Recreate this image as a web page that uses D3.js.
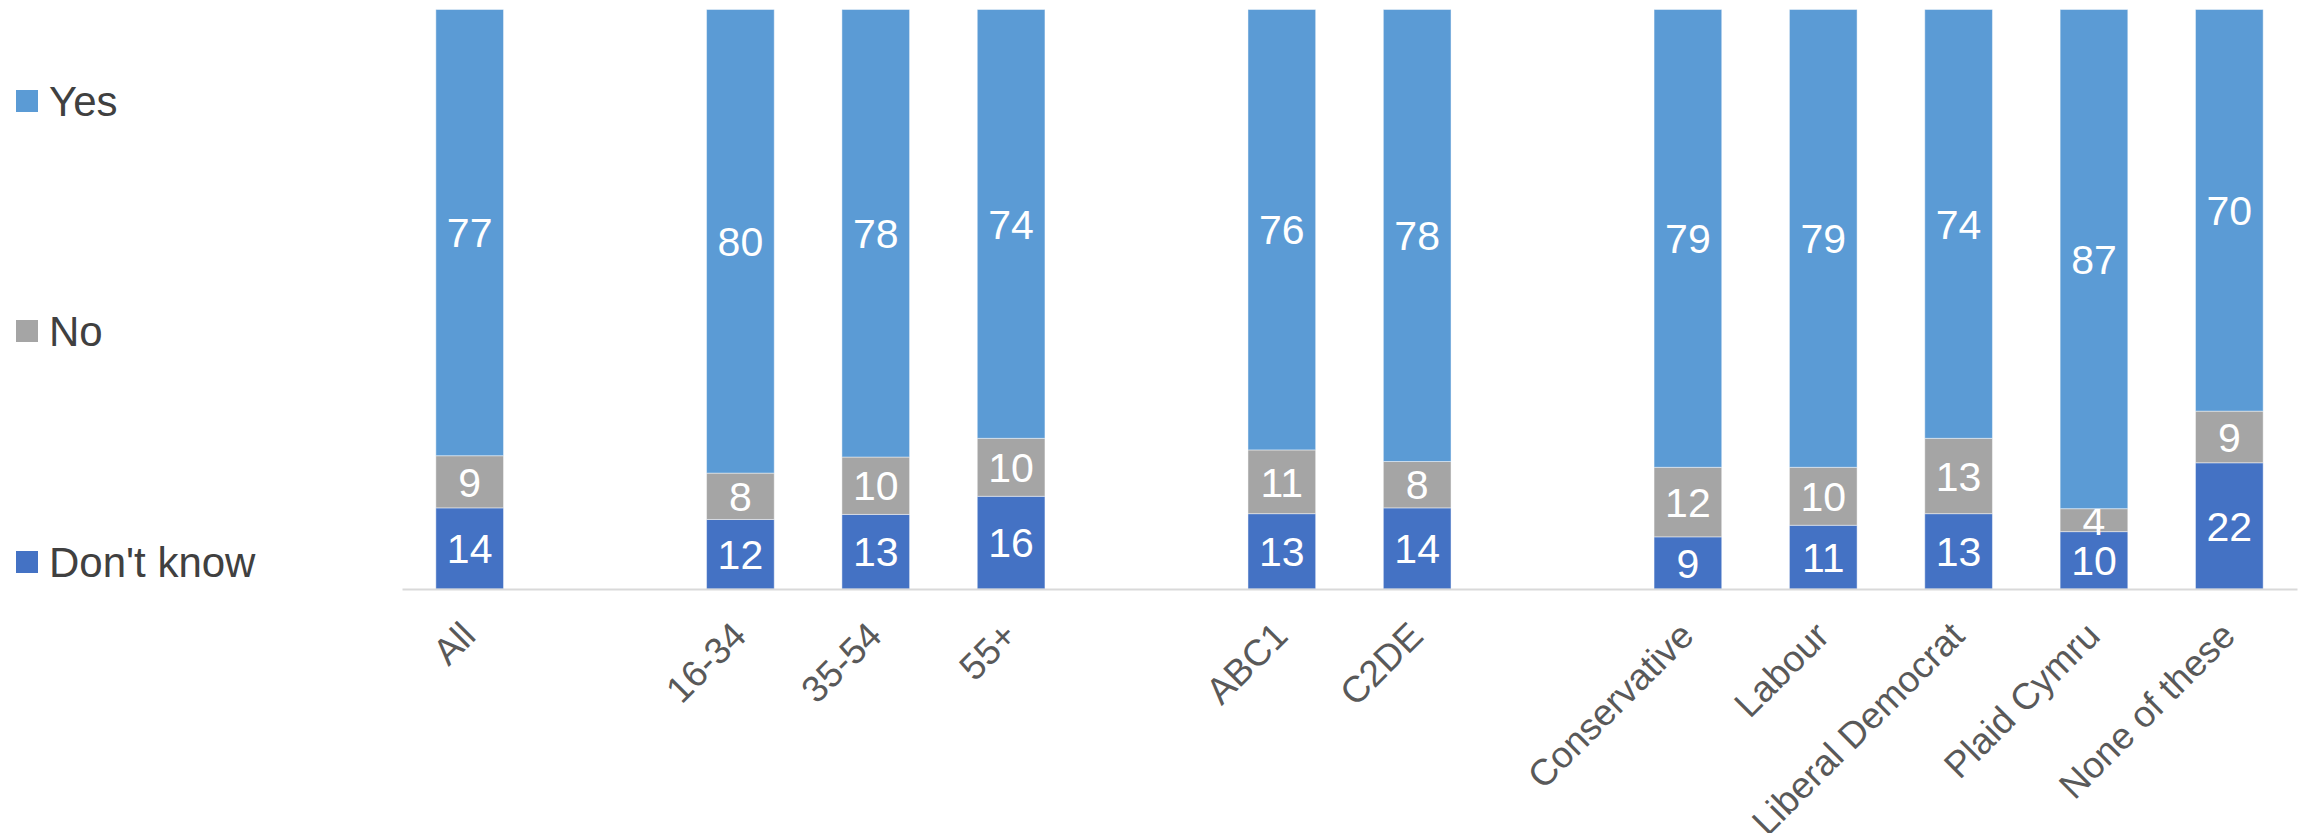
<!DOCTYPE html>
<html>
<head>
<meta charset="utf-8">
<script src="https://cdn.jsdelivr.net/npm/d3@7"></script>
<style>
  html, body { margin: 0; padding: 0; background: #fff; }
  svg { display: block; font-family: "Liberation Sans", Arial, sans-serif; }
</style>
</head>
<body>
<svg id="chart" width="2308" height="833"></svg>
<script>
// Categories in display order; "gap" entries are empty slots between groups
const slots = ["All", "gap1", "16-34", "35-54", "55+", "gap2", "ABC1", "C2DE", "gap3",
               "Conservative", "Labour", "Liberal Democrat", "Plaid Cymru", "None of these"];
const categories = ["All", "16-34", "35-54", "55+", "ABC1", "C2DE",
                    "Conservative", "Labour", "Liberal Democrat", "Plaid Cymru", "None of these"];
const seriesNames = ["Don't know", "No", "Yes"];
const dontKnow = [14, 12, 13, 16, 13, 14, 9, 11, 13, 10, 22];
const no       = [9, 8, 10, 10, 11, 8, 12, 10, 13, 4, 9];
const yes      = [77, 80, 78, 74, 76, 78, 79, 79, 74, 87, 70];
const colors = { "Yes": "#5B9BD5", "No": "#A5A5A5", "Don't know": "#4472C4" };
const legendOrder = ["Yes", "No", "Don't know"];

const rows = categories.map((c, i) => ({
  category: c, "Don't know": dontKnow[i], "No": no[i], "Yes": yes[i]
}));

const svg = d3.select("#chart");
const axisY = 589, topY = 9.5;

const x = d3.scaleBand().domain(slots).range([402, 2297]).paddingInner(0.5).paddingOuter(0.25);
const y = d3.scaleLinear().domain([0, 1]).range([axisY, topY]);

const stack = d3.stack().keys(seriesNames).offset(d3.stackOffsetExpand);
const stacked = stack(rows);

const layers = svg.append("g").selectAll("g")
  .data(stacked).join("g")
  .attr("fill", d => colors[d.key]);

layers.selectAll("rect")
  .data(d => d.map(p => ({ key: d.key, p })))
  .join("rect")
  .attr("x", d => x(d.p.data.category))
  .attr("width", x.bandwidth())
  .attr("y", d => y(d.p[1]))
  .attr("height", d => y(d.p[0]) - y(d.p[1]))
  .attr("stroke", "#ffffff")
  .attr("stroke-opacity", 0.45)
  .attr("stroke-width", 1);

// data labels
layers.selectAll("text")
  .data(d => d.map(p => ({ key: d.key, p })))
  .join("text")
  .attr("x", d => x(d.p.data.category) + x.bandwidth() / 2)
  .attr("y", d => (y(d.p[0]) + y(d.p[1])) / 2)
  .attr("dy", "0.36em")
  .attr("text-anchor", "middle")
  .attr("fill", "#ffffff")
  .attr("font-size", 41)
  .text(d => d.p.data[d.key]);

// axis
const axis = d3.axisBottom(x).tickValues(categories).tickSize(0).tickSizeOuter(0);
const gx = svg.append("g").attr("transform", `translate(0,${axisY})`).call(axis);
gx.select(".domain").attr("stroke", "#d9d9d9").attr("stroke-width", 2);
gx.selectAll(".tick text")
  .attr("x", 0).attr("y", 0).attr("dy", 0)
  .attr("transform", "translate(8,49) rotate(-45)")
  .attr("text-anchor", "end")
  .attr("fill", "#595959")
  .attr("font-size", 37)
  .attr("font-family", "Liberation Sans, Arial, sans-serif");

// legend
const legendY = { "Yes": 101, "No": 331, "Don't know": 562 };
const lg = svg.append("g").selectAll("g").data(legendOrder).join("g")
  .attr("transform", d => `translate(16,${legendY[d]})`);
lg.append("rect").attr("x", 0).attr("y", -11).attr("width", 22).attr("height", 22)
  .attr("fill", d => colors[d]);
lg.append("text").attr("x", 33).attr("y", 0).attr("dy", "0.36em")
  .attr("fill", "#404040").attr("font-size", 42).text(d => d);
</script>
</body>
</html>
